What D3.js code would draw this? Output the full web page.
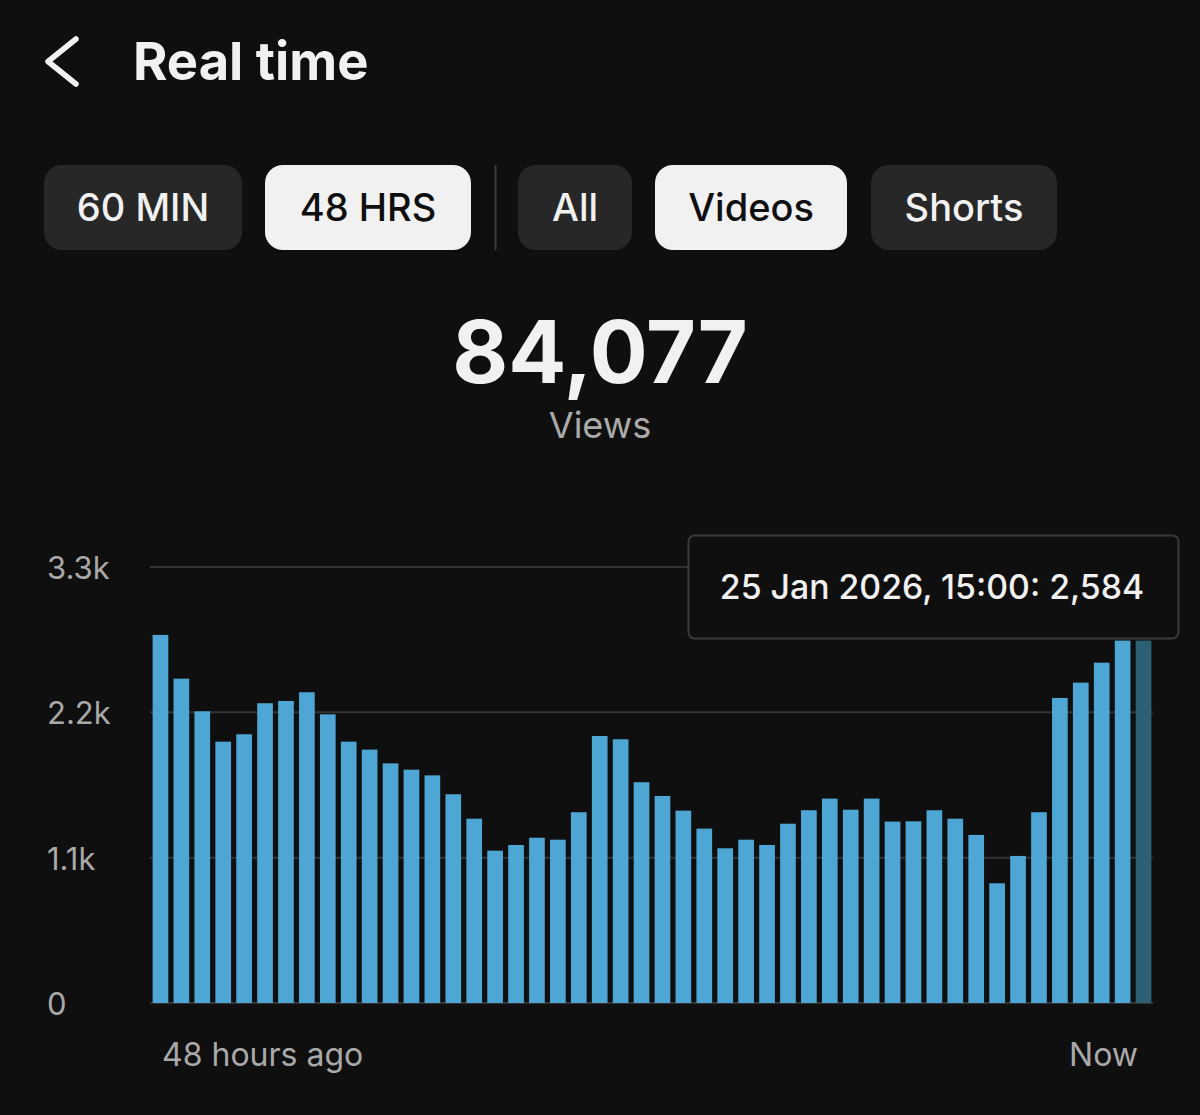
<!DOCTYPE html>
<html>
<head>
<meta charset="utf-8">
<script src="https://cdn.jsdelivr.net/npm/d3@7"></script>
<style>
  html, body { margin: 0; padding: 0; background: #0f0f0f; }
  svg { display: block; font-family: Inter, "Noto Sans", sans-serif; }
</style>
</head>
<body>
<div id="container"></div>
<script>
const width = 1200;
const height = 1115;

// hourly views over the last 48 hours
const views = [
  2786, 2455, 2208, 1978, 2034, 2269, 2286, 2352, 2185, 1978,
  1918, 1814, 1766, 1723, 1580, 1395, 1153, 1196, 1251, 1236,
  1444, 2021, 1996, 1671, 1567, 1456, 1320, 1171, 1236, 1196,
  1357, 1459, 1547, 1463, 1547, 1373, 1375, 1459, 1395, 1272,
  906, 1113, 1444, 2309, 2425, 2576, 2743, 2743
];
const yTicks = [0, 1100, 2200, 3300];
const yTickLabels = ['0', '1.1k', '2.2k', '3.3k'];
const xLabels = ['48 hours ago', 'Now'];
const rangePills = ['60 MIN', '48 HRS'];
const typePills = ['All', 'Videos', 'Shorts'];
const selectedPills = ['48 HRS', 'Videos'];
const totalViews = '84,077';
const tooltipText = '25 Jan 2026, 15:00: 2,584';

function render() {
  const svg = d3.select('#container').append('svg')
    .attr('width', width)
    .attr('height', height)
    .attr('viewBox', [0, 0, width, height]);

  svg.append('rect')
    .attr('width', width)
    .attr('height', height)
    .attr('fill', '#0f0f0f');

  // header
  svg.append('path')
    .attr('d', 'M76,39 L48,61.5 L76,84')
    .attr('fill', 'none')
    .attr('stroke', '#f1f1f1')
    .attr('stroke-width', 5.5)
    .attr('stroke-linecap', 'round')
    .attr('stroke-linejoin', 'round');

  svg.append('text')
    .attr('x', 133)
    .attr('y', 80)
    .attr('fill', '#f1f1f1')
    .attr('font-size', 52.5)
    .attr('font-weight', 700)
    .text('Real time');

  // filter pills
  const pills = [
    {label: rangePills[0], x: 44, w: 198},
    {label: rangePills[1], x: 265, w: 206},
    {label: typePills[0], x: 518, w: 114},
    {label: typePills[1], x: 655, w: 192},
    {label: typePills[2], x: 871, w: 186}
  ];
  const pill = svg.append('g')
    .selectAll('g')
    .data(pills)
    .join('g');

  pill.append('rect')
    .attr('x', d => d.x)
    .attr('y', 165)
    .attr('width', d => d.w)
    .attr('height', 85)
    .attr('rx', 18)
    .attr('fill', d => selectedPills.includes(d.label) ? '#f1f1f1' : '#272727');

  pill.append('text')
    .attr('x', d => d.x + d.w / 2)
    .attr('y', 221)
    .attr('text-anchor', 'middle')
    .attr('font-size', 38)
    .attr('font-weight', 500)
    .attr('fill', d => selectedPills.includes(d.label) ? '#0f0f0f' : '#f1f1f1')
    .text(d => d.label);

  svg.append('line')
    .attr('x1', 495.5)
    .attr('x2', 495.5)
    .attr('y1', 165)
    .attr('y2', 250)
    .attr('stroke', '#3a3a3a')
    .attr('stroke-width', 2);

  // total
  svg.append('text')
    .attr('x', 600)
    .attr('y', 383)
    .attr('text-anchor', 'middle')
    .attr('font-size', 86)
    .attr('font-weight', 700)
    .attr('fill', '#f1f1f1')
    .text(totalViews);

  svg.append('text')
    .attr('x', 600)
    .attr('y', 438)
    .attr('text-anchor', 'middle')
    .attr('font-size', 36)
    .attr('fill', '#aaaaaa')
    .text('Views');

  // chart
  const x = d3.scaleBand()
    .domain(d3.range(views.length))
    .range([150, 1154])
    .paddingInner(0.25)
    .paddingOuter(0.125);

  const y = d3.scaleLinear()
    .domain([0, 3300])
    .range([1003, 567]);

  const grid = svg.append('g');
  grid.selectAll('line')
    .data(yTicks)
    .join('line')
    .attr('x1', 150)
    .attr('x2', 1153)
    .attr('y1', d => y(d))
    .attr('y2', d => y(d))
    .attr('stroke', '#333333')
    .attr('stroke-width', 2);

  grid.selectAll('text')
    .data(yTicks)
    .join('text')
    .attr('x', 47)
    .attr('y', d => y(d) + 12)
    .attr('font-size', 31)
    .attr('fill', '#a9a9a9')
    .text((d, i) => yTickLabels[i]);

  svg.append('g')
    .selectAll('rect')
    .data(views)
    .join('rect')
    .attr('x', (d, i) => x(i))
    .attr('y', d => y(d))
    .attr('width', x.bandwidth())
    .attr('height', d => y(0) - y(d))
    .attr('fill', (d, i) => i === views.length - 1 ? '#2b5f73' : '#4da6d3');

  svg.append('text')
    .attr('x', 162)
    .attr('y', 1066)
    .attr('font-size', 32)
    .attr('fill', '#a9a9a9')
    .text(xLabels[0]);

  svg.append('text')
    .attr('x', 1138)
    .attr('y', 1066)
    .attr('text-anchor', 'end')
    .attr('font-size', 32)
    .attr('fill', '#a9a9a9')
    .text(xLabels[1]);

  // tooltip for the hovered (last) bar
  const tip = svg.append('g');
  tip.append('rect')
    .attr('x', 688.5)
    .attr('y', 535.5)
    .attr('width', 490)
    .attr('height', 103)
    .attr('rx', 6)
    .attr('fill', '#0f0f0f')
    .attr('stroke', '#3a3a3a')
    .attr('stroke-width', 2);

  tip.append('text')
    .attr('x', 932)
    .attr('y', 599)
    .attr('text-anchor', 'middle')
    .attr('font-size', 33.8)
    .attr('font-weight', 500)
    .attr('fill', '#f1f1f1')
    .text(tooltipText);
}

window.addEventListener('load', render);
</script>
</body>
</html>
